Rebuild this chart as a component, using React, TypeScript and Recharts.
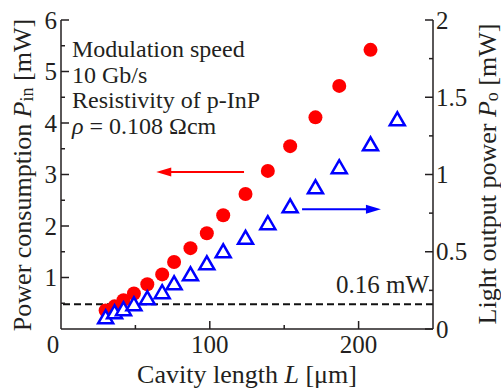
import { ComposedChart, Scatter, XAxis, YAxis, ReferenceLine } from 'recharts';

// cavity length L [um], shared by both series
const lengths = [30, 36, 42, 49, 58, 68, 76, 87, 98, 109, 124, 139, 154, 171, 187, 208, 226];
// power consumption Pin [mW] (left axis)
const powerIn = [0.36, 0.44, 0.56, 0.69, 0.87, 1.06, 1.3, 1.57, 1.86, 2.21, 2.62, 3.07, 3.55, 4.11, 4.72, 5.42];
// light output power Po [mW] (right axis)
const lightOut = [0.076, 0.108, 0.128, 0.16, 0.199, 0.238, 0.296, 0.354, 0.425, 0.503, 0.59, 0.685, 0.794, 0.917, 1.047, 1.195, 1.357];

const xTicks = [0, 50, 100, 150, 200, 250];
const topTicks = [50, 100, 150, 200];
const leftTicks = [0.5, 1, 1.5, 2, 2.5, 3, 3.5, 4, 4.5, 5, 5.5, 6];
const rightTicks = [0, 0.25, 0.5, 0.75, 1, 1.25, 1.5, 1.75, 2];
const threshold = 0.16;
const notes = ['Modulation speed', '10 Gb/s', 'Resistivity of p-InP'];

// arrows pointing at the axis each series belongs to
const inArrow = { y: 3.05, from: 123, to: 64 };
const outArrow = { y: 0.775, from: 162, to: 215 };

const inData = powerIn.map((p, i) => ({ L: lengths[i], P: p }));
const outData = lightOut.map((p, i) => ({ L: lengths[i], P: p }));

const ink = '#231f20';
const font = '"Liberation Serif", "Times New Roman", serif';

function LeftTick({ x, y, payload }: any) {
  const v = payload.value;
  const major = Number.isInteger(v);
  return (
    <g>
      <line x1={x} y1={y} x2={x + (major ? 8 : 4)} y2={y} stroke={ink} strokeWidth={1.5} />
      {major && (
        <text x={x - 4} y={y} textAnchor="end" dominantBaseline="central" fontSize={25} fill={ink} fontFamily={font}>
          {v}
        </text>
      )}
    </g>
  );
}

function RightTick({ x, y, payload }: any) {
  const v = payload.value;
  const major = Number.isInteger(v * 2);
  return (
    <g>
      <line x1={x} y1={y} x2={x - (major ? 8 : 4)} y2={y} stroke={ink} strokeWidth={1.5} />
      {major && (
        <text x={x + 3} y={y} textAnchor="start" dominantBaseline="central" fontSize={25} fill={ink} fontFamily={font}>
          {v}
        </text>
      )}
    </g>
  );
}

function BottomTick({ x, y, payload }: any) {
  const v = payload.value;
  const major = v % 100 === 0;
  return (
    <g>
      {v > 0 && v < 250 && <line x1={x} y1={y} x2={x} y2={y - (major ? 8 : 4)} stroke={ink} strokeWidth={1.5} />}
      {major && (
        <text x={v === 0 ? x - 8 : x} y={y + 24} textAnchor="middle" fontSize={25} fill={ink} fontFamily={font}>
          {v}
        </text>
      )}
    </g>
  );
}

function TopTick({ x, y, payload }: any) {
  const major = payload.value % 100 === 0;
  return <line x1={x} y1={y} x2={x} y2={y + (major ? 8 : 4)} stroke={ink} strokeWidth={1.5} />;
}

const arrowShape = (color: string) => (props: any) => {
  const { x1, y1, x2, y2 } = props;
  const dir = x2 > x1 ? 1 : -1;
  const head = 15;
  return (
    <g>
      <line x1={x1} y1={y1} x2={x2 - dir * (head - 2)} y2={y2} stroke={color} strokeWidth={2} />
      <polygon points={`${x2},${y2} ${x2 - dir * head},${y2 - 4.5} ${x2 - dir * head},${y2 + 4.5}`} fill={color} />
    </g>
  );
};

const circle = (props: any) => <circle cx={props.cx} cy={props.cy} r={7} fill="#ff0000" />;

const triangle = (props: any) => {
  const { cx, cy } = props;
  return (
    <polygon
      points={`${cx},${cy - 7} ${cx - 7.5},${cy + 6} ${cx + 7.5},${cy + 6}`}
      fill="#ffffff"
      stroke="#0000ff"
      strokeWidth={2.5}
      strokeLinejoin="miter"
    />
  );
};

export default function App() {
  const axisLine = { stroke: ink, strokeWidth: 1.5 };
  return (
    <div style={{ position: 'absolute', left: 0, top: 0, width: 501, height: 392, background: '#fff' }}>
      <ComposedChart width={501} height={392} margin={{ top: 20, right: 0, bottom: 0, left: 0 }}>
        <XAxis
          dataKey="L"
          type="number"
          domain={[0, 250]}
          ticks={xTicks}
          interval={0}
          height={63}
          tickSize={0}
          tickMargin={0}
          tickLine={false}
          axisLine={axisLine}
          tick={<BottomTick />}
        />
        <XAxis
          xAxisId="top"
          orientation="top"
          dataKey="L"
          type="number"
          domain={[0, 250]}
          ticks={topTicks}
          interval={0}
          height={0}
          tickSize={0}
          tickMargin={0}
          tickLine={false}
          axisLine={axisLine}
          tick={<TopTick />}
        />
        <YAxis
          yAxisId="left"
          type="number"
          domain={[0, 6]}
          ticks={leftTicks}
          interval={0}
          width={61}
          tickSize={0}
          tickMargin={0}
          tickLine={false}
          axisLine={axisLine}
          tick={<LeftTick />}
        />
        <YAxis
          yAxisId="right"
          orientation="right"
          type="number"
          domain={[0, 2]}
          ticks={rightTicks}
          interval={0}
          width={68}
          tickSize={0}
          tickMargin={0}
          tickLine={false}
          axisLine={axisLine}
          tick={<RightTick />}
        />
        <Scatter data={inData} dataKey="P" yAxisId="left" shape={circle} isAnimationActive={false} />
        <Scatter data={outData} dataKey="P" yAxisId="right" shape={triangle} isAnimationActive={false} />
        <ReferenceLine yAxisId="right" y={threshold} stroke="#111" strokeWidth={2} strokeDasharray="7 4" />
        <ReferenceLine
          yAxisId="left"
          segment={[{ x: inArrow.from, y: inArrow.y }, { x: inArrow.to, y: inArrow.y }]}
          shape={arrowShape('#ff0000')}
        />
        <ReferenceLine
          yAxisId="right"
          segment={[{ x: outArrow.from, y: outArrow.y }, { x: outArrow.to, y: outArrow.y }]}
          shape={arrowShape('#0000ff')}
        />
      </ComposedChart>
      <svg
        width={501}
        height={392}
        style={{ position: 'absolute', left: 0, top: 0, pointerEvents: 'none' }}
        fontFamily={font}
        fill={ink}
      >
        {notes.map((t, i) => (
          <text key={t} x={72} y={57 + i * 25.7} fontSize={24}>
            {t}
          </text>
        ))}
        <text x={72} y={134} fontSize={24}>
          <tspan fontStyle="italic">ρ</tspan> = 0.108 Ωcm
        </text>
        <text x={429} y={293} fontSize={25} textAnchor="end">
          0.16 mW
        </text>
        <text x={247} y={383} fontSize={26} textAnchor="middle">
          Cavity length <tspan fontStyle="italic">L</tspan> [μm]
        </text>
        <text transform="translate(22,175) rotate(-90)" fontSize={26} textAnchor="middle" dominantBaseline="central">
          Power consumption <tspan fontStyle="italic">P</tspan>
          <tspan dy={5} fontSize={18}>in</tspan>
          <tspan dy={-5}> [mW]</tspan>
        </text>
        <text transform="translate(487,174) rotate(-90)" fontSize={26} textAnchor="middle" dominantBaseline="central">
          Light output power <tspan fontStyle="italic">P</tspan>
          <tspan dy={5} fontSize={18}>o</tspan>
          <tspan dy={-5}> [mW]</tspan>
        </text>
      </svg>
    </div>
  );
}
